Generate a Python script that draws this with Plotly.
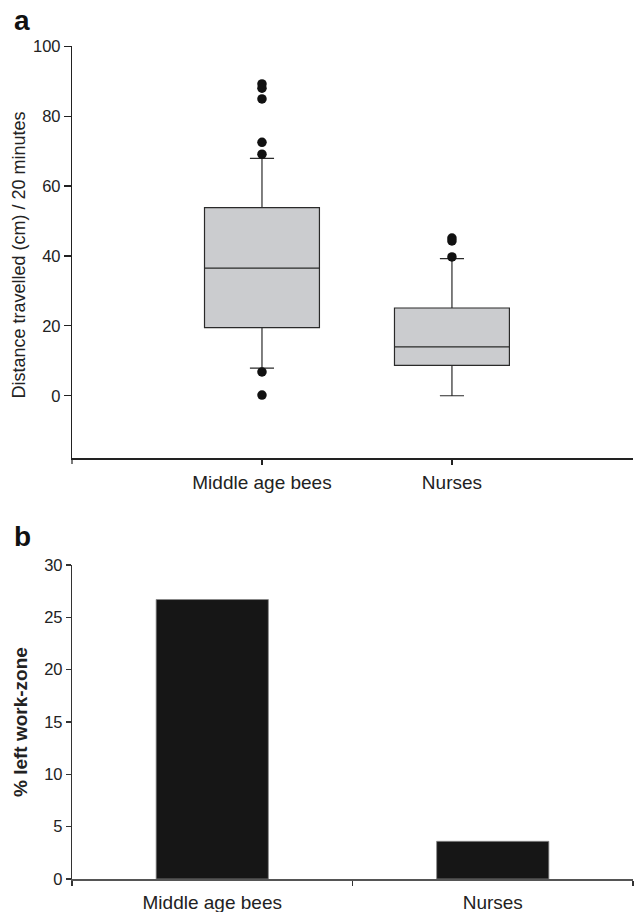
import plotly.graph_objects as go

# ---------------- data ----------------
categories = ["Middle age bees", "Nurses"]

# panel a: box statistics (distance travelled, cm / 20 min)
box_q1 = [19.5, 8.7]
box_median = [36.5, 14.0]
box_q3 = [53.8, 25.1]
box_lower = [7.9, 0.0]
box_upper = [67.9, 39.2]
outliers_middle = [89.2, 88.0, 84.9, 72.5, 69.1, 6.8, 0.2]
outliers_nurses = [45.1, 44.3, 39.7]

# panel b: % left work-zone
pct_left = [26.7, 3.6]

y_ticks_a = [0, 20, 40, 60, 80, 100]
y_ticks_b = [0, 5, 10, 15, 20, 25, 30]

# ---------------- figure ----------------
W, H = 641, 912
FONT = "Arial, Liberation Sans, sans-serif"
TXT = "#222222"

def px_x(p):
    return p / W

def px_y(p):
    return 1 - p / H

fig = go.Figure()

fig.add_trace(go.Box(
    x=categories, q1=box_q1, median=box_median, q3=box_q3,
    lowerfence=box_lower, upperfence=box_upper,
    width=0.605, whiskerwidth=0.21,
    fillcolor="#cbcccf", line=dict(color="#2a2a2a", width=1.2),
    boxpoints=False, xaxis="x", yaxis="y", showlegend=False,
    hoverinfo="skip",
))

out_x = [categories[0]] * len(outliers_middle) + [categories[1]] * len(outliers_nurses)
out_y = outliers_middle + outliers_nurses
fig.add_trace(go.Scatter(
    x=out_x, y=out_y, mode="markers",
    marker=dict(size=9.5, color="#111111"),
    xaxis="x", yaxis="y", showlegend=False,
))

fig.add_trace(go.Bar(
    x=categories, y=pct_left, width=0.4,
    marker=dict(color="#161616", line=dict(color="#888888", width=0.8)),
    xaxis="x2", yaxis="y2", showlegend=False,
))

axis_common = dict(showgrid=False, zeroline=False, showline=True,
                   ticks="outside", mirror=False, automargin=False)

fig.update_layout(
    width=W, height=H,
    margin=dict(l=0, r=0, t=0, b=0, pad=0, autoexpand=False),
    paper_bgcolor="white", plot_bgcolor="white",
    font=dict(family=FONT, color=TXT),
    xaxis=dict(
        **axis_common, domain=[px_x(72), px_x(633)], anchor="y",
        type="category", categoryorder="array", categoryarray=categories,
        range=[-1, 1.953], linecolor="#222222", linewidth=1.2,
        tickcolor="#222222", ticklen=5, tickwidth=1.2,
        ticklabelstandoff=2,
        tickfont=dict(size=19, color=TXT),
    ),
    yaxis=dict(
        **axis_common, domain=[px_y(458.3), px_y(46.2)], anchor="x",
        range=[-17.9, 100], tickmode="array", tickvals=y_ticks_a,
        linecolor="#222222", linewidth=1.2, tickcolor="#222222",
        ticklen=7, tickwidth=1.2, tickfont=dict(size=16.5, color=TXT),
    ),
    xaxis2=dict(
        **axis_common, domain=[px_x(72), px_x(633)], anchor="y2",
        type="category", categoryorder="array", categoryarray=categories,
        range=[-0.5, 1.5], tickson="boundaries",
        linecolor="#555555", linewidth=1.6, tickcolor="#333333",
        ticklen=5, tickwidth=1.2, ticklabelstandoff=6,
        tickfont=dict(size=19, color=TXT),
    ),
    yaxis2=dict(
        **axis_common, domain=[px_y(879), px_y(565)], anchor="x2",
        range=[0, 30], tickmode="array", tickvals=y_ticks_b,
        linecolor="#333333", linewidth=1.2, tickcolor="#333333",
        ticklen=5, tickwidth=1.2, tickfont=dict(size=16.5, color=TXT),
    ),
    shapes=[
        dict(type="line", xref="paper", yref="paper",
             x0=px_x(72), x1=px_x(72), y0=px_y(458.3), y1=px_y(464),
             line=dict(color="#222222", width=1.2)),
    ],
    annotations=[
        dict(text="Distance travelled (cm) / 20 minutes", textangle=-90,
             xref="paper", yref="paper", x=px_x(19), y=px_y(255.5),
             xanchor="center", yanchor="middle", showarrow=False,
             font=dict(size=18, color=TXT)),
        dict(text="<b>% left work-zone</b>", textangle=-90,
             xref="paper", yref="paper", x=px_x(20), y=px_y(722),
             xanchor="center", yanchor="middle", showarrow=False,
             font=dict(size=19, color=TXT)),
        dict(text="<b>a</b>", xref="paper", yref="paper",
             x=px_x(12), y=px_y(21), xanchor="left", yanchor="middle",
             showarrow=False, font=dict(size=28, color="#111111")),
        dict(text="<b>b</b>", xref="paper", yref="paper",
             x=px_x(12), y=px_y(536), xanchor="left", yanchor="middle",
             showarrow=False, font=dict(size=28, color="#111111")),
    ],
)

# pin the graph to the top-left corner of the page (no body margin / scrolling)
pin_js = (
    "document.documentElement.style.margin='0';"
    "document.documentElement.style.overflow='hidden';"
    "document.body.style.margin='0';"
    "document.body.style.overflow='hidden';"
    "var g=document.getElementById('{plot_id}');"
    "g.style.position='fixed';g.style.left='0px';g.style.top='0px';"
)

fig.write_html("out.html", post_script=pin_js,
               config={"displayModeBar": False, "staticPlot": True})
